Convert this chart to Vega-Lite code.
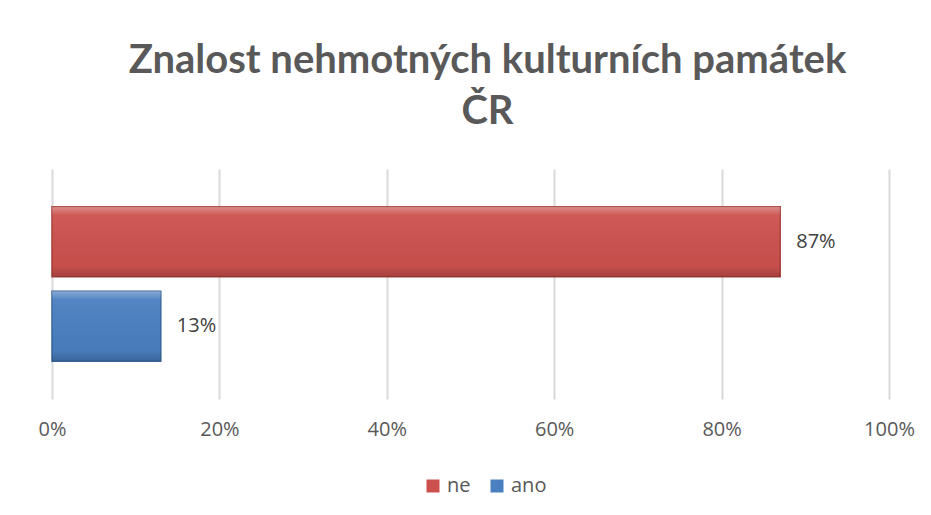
{
  "$schema": "https://vega.github.io/schema/vega-lite/v6.json",
  "autosize": "none",
  "width": 837,
  "height": 230,
  "padding": {"left": 52, "top": 169, "right": 42, "bottom": 116},
  "background": "white",
  "config": {"view": {"stroke": null}},
  "title": {
    "text": ["Znalost nehmotných kulturních památek", "ČR"],
    "font": "Lato",
    "fontSize": 40,
    "fontWeight": "bold",
    "color": "#595959",
    "lineHeight": 51,
    "anchor": "middle",
    "frame": "group",
    "dx": 17,
    "offset": 37
  },
  "data": {
    "values": [
      {"odpoved": "ne", "podil": 0.87},
      {"odpoved": "ano", "podil": 0.13}
    ]
  },
  "encoding": {
    "y": {
      "field": "odpoved",
      "type": "nominal",
      "scale": {"domain": ["ne", "ano"], "paddingInner": 0.17, "paddingOuter": 0.447},
      "axis": null
    },
    "x": {
      "field": "podil",
      "type": "quantitative",
      "scale": {"domain": [0, 1], "nice": false, "zero": true},
      "axis": {
        "format": ".0%",
        "values": [0, 0.2, 0.4, 0.6, 0.8, 1],
        "title": null,
        "domain": false,
        "ticks": false,
        "labelFlush": false,
        "labelFont": "Open Sans",
        "labelFontSize": 20,
        "labelColor": "#595959",
        "labelPadding": 20,
        "grid": true,
        "gridColor": "#d9d9d9",
        "gridWidth": 2
      }
    }
  },
  "layer": [
    {
      "mark": {"type": "bar", "strokeWidth": 1.5},
      "encoding": {
        "color": {
          "field": "odpoved",
          "type": "nominal",
          "scale": {"domain": ["ne", "ano"], "range": ["#cc514e", "#4a7fc0"]},
          "legend": {
            "title": null,
            "orient": "none",
            "direction": "horizontal",
            "legendX": 371,
            "legendY": 307,
            "symbolType": "square",
            "symbolSize": 169,
            "symbolStrokeWidth": 0,
            "labelFont": "Open Sans",
            "labelFontSize": 20,
            "labelColor": "#595959",
            "labelOffset": 4,
            "columnPadding": 16
          }
        },
        "stroke": {
          "field": "odpoved",
          "type": "nominal",
          "scale": {"domain": ["ne", "ano"], "range": ["#a8403d", "#3a679e"]},
          "legend": null
        }
      }
    },
    {
      "mark": {
        "type": "bar",
        "fill": {
          "gradient": "linear",
          "x1": 0, "y1": 0, "x2": 0, "y2": 1,
          "stops": [
            {"offset": 0, "color": "rgba(255,255,255,0.35)"},
            {"offset": 0.12, "color": "rgba(255,255,255,0.05)"},
            {"offset": 0.85, "color": "rgba(0,0,0,0.03)"},
            {"offset": 1, "color": "rgba(0,0,0,0.2)"}
          ]
        }
      }
    },
    {
      "mark": {"type": "text", "align": "left", "dx": 16, "font": "Open Sans", "fontSize": 20, "color": "#404040"},
      "encoding": {
        "text": {"field": "podil", "type": "quantitative", "format": ".0%"}
      }
    }
  ]
}
